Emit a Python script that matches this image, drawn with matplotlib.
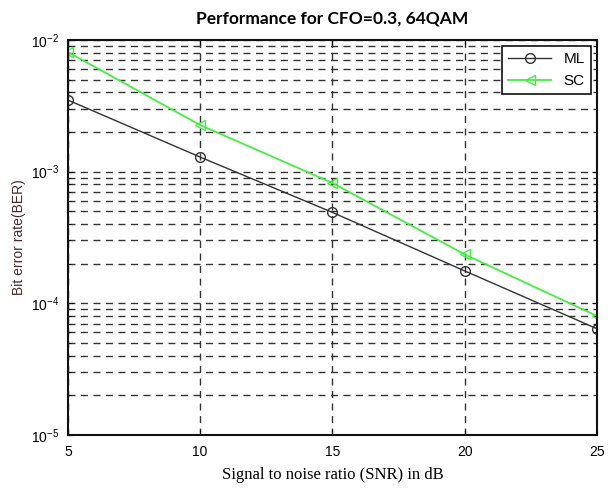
import matplotlib
matplotlib.use("Agg")
import matplotlib.pyplot as plt
import numpy as np
from matplotlib.ticker import LogLocator, NullFormatter

snr = [5, 10, 15, 20, 25]
ber_ml = [3.5e-3, 1.29e-3, 4.9e-4, 1.76e-4, 6.4e-5]
ber_sc = [8.1e-3, 2.26e-3, 8.2e-4, 2.35e-4, 8.0e-5]
xticks = [5, 10, 15, 20, 25]

fig = plt.figure(figsize=(6.11, 4.88), dpi=100)
ax = fig.add_axes([0.111, 0.109, 0.866, 0.809])

ax.semilogy(snr, ber_ml, color='#333333', lw=1.0, marker='o', ms=7,
            mfc='none', mec='#333333', label='ML')
ax.semilogy(snr, ber_sc, color='#44ee44', lw=1.3, marker='<', ms=7,
            mfc='none', mec='#44ee44', label='SC')

ax.set_xlim(5, 25)
ax.set_ylim(1e-5, 1e-2)
ax.set_xticks(xticks)
ax.yaxis.set_major_locator(LogLocator(base=10, numticks=10))
ax.yaxis.set_minor_locator(LogLocator(base=10, subs=np.arange(2, 10), numticks=20))
ax.yaxis.set_minor_formatter(NullFormatter())

ax.grid(True, which='major', axis='x', color='#333333', linestyle=(0, (5, 4)), lw=1.0)
ax.grid(True, which='both', axis='y', color='#333333', linestyle=(0, (5, 4)), lw=1.0)

ax.tick_params(which='both', direction='in', top=True, right=True, labelsize=10)
ax.tick_params(axis='x', pad=7)
ax.tick_params(axis='y', pad=6)
for lbl in ax.get_xticklabels() + ax.get_yticklabels():
    lbl.set_family('Liberation Sans')
for s in ax.spines.values():
    s.set_linewidth(1.5)
    s.set_color('#111111')

ax.set_xlabel('Signal to noise ratio (SNR) in dB', family='Liberation Serif', fontsize=12, labelpad=6)
ax.set_ylabel('Bit error rate(BER)', family='Liberation Sans', fontsize=10, color='#4a2a2a')
ax.set_title('Performance for CFO=0.3, 64QAM', family='Lato', fontweight='bold', fontsize=12.5, pad=12)

leg = ax.legend(loc='upper right', fancybox=False, framealpha=1, edgecolor='#111111',
                prop={'family': 'Liberation Sans', 'size': 11}, handlelength=2.8,
                borderaxespad=0.4)
leg.get_frame().set_linewidth(1.2)

fig.savefig('out.png', dpi=100)
